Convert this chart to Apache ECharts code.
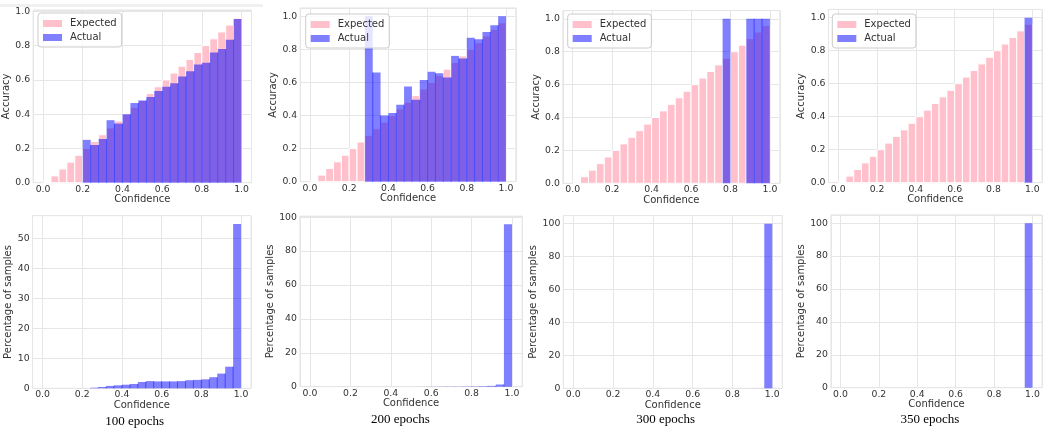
<!DOCTYPE html>
<html>
<head>
<meta charset="utf-8">
<script src="https://cdn.jsdelivr.net/npm/echarts@6/dist/echarts.min.js"></script>
<style>
html,body{margin:0;padding:0;background:#fff;}
#c{width:1045px;height:428px;}
</style>
</head>
<body>
<div id="c"></div>
<script>
// ---------- data ----------
const binEdges = [0, 0.04, 0.08, 0.12, 0.16, 0.2, 0.24, 0.28, 0.32, 0.36, 0.4, 0.44, 0.48, 0.52, 0.56, 0.6, 0.64, 0.68, 0.72, 0.76, 0.8, 0.84, 0.88, 0.92, 0.96, 1.0];
const expected = [0, 0.04, 0.08, 0.12, 0.16, 0.2, 0.24, 0.28, 0.32, 0.36, 0.4, 0.44, 0.48, 0.52, 0.56, 0.6, 0.64, 0.68, 0.72, 0.76, 0.8, 0.84, 0.88, 0.92, 0.96];

const actual100 = [null, null, null, null, null, 0.25, 0.22, 0.255, 0.365, 0.345, 0.40, 0.465, 0.48, 0.50, 0.535, 0.56, 0.58, 0.62, 0.65, 0.69, 0.70, 0.76, 0.78, 0.835, 0.955];
const actual200 = [null, null, null, null, null, null, null, 1.0, 0.66, 0.40, 0.415, 0.465, 0.575, 0.495, 0.615, 0.665, 0.655, 0.63, 0.76, 0.745, 0.87, 0.86, 0.905, 0.945, 1.0];
const actual300 = [null, null, null, null, null, null, null, null, null, null, null, null, null, null, null, null, null, null, null, 1.0, null, null, 1.0, 1.0, 1.0];
const actual350 = [null, null, null, null, null, null, null, null, null, null, null, null, null, null, null, null, null, null, null, null, null, null, null, null, 1.0];

const samples100 = [null, null, null, null, null, null, 0.2, 0.45, 0.8, 1.0, 1.2, 1.45, 2.1, 2.4, 2.3, 2.3, 2.3, 2.4, 2.7, 2.8, 3.0, 3.7, 4.9, 7.2, 54.8];
const samples200 = [null, null, null, null, null, null, null, null, null, null, null, null, null, null, 0.05, 0.05, 0.1, 0.1, 0.1, 0.15, 0.2, 0.3, 0.5, 1.3, 95.8];
const samples300 = [null, null, null, null, null, null, null, null, null, null, null, null, null, null, null, null, null, null, null, 0.01, null, null, 0.02, 0.05, 99.9];
const samples350 = [null, null, null, null, null, null, null, null, null, null, null, null, null, null, null, null, null, null, null, null, null, null, null, null, 100];

const captions = ['100 epochs', '200 epochs', '300 epochs', '350 epochs'];
const actualSets = [actual100, actual200, actual300, actual350];
const sampleSets = [samples100, samples200, samples300, samples350];

// ---------- layout (pixels) ----------
const topGrids = [[33.1, 10, 218.4, 172.7], [300.2, 7.9, 215.6, 173.8], [562.8, 10.6, 217, 172.7], [828.5, 9.4, 215.3, 173.3]];
const botGrids = [[32.6, 215.7, 218.4, 172.6], [299.9, 216.1, 222.2, 170.6], [563.3, 215.6, 218.9, 172.7], [830.9, 214.9, 215.6, 172.8]];
const topNameGap = [17, 17.5, 17.8, 17.5];
const botNameGap = [16.8, 17.6, 18.8, 20.7];
const legendPos = [[38, 13], [305.7, 14], [567.7, 14], [832.3, 14]];
const captionPos = [[134.7, 422], [400.5, 420], [665.7, 420], [930, 420]];

const FONT = 'DejaVu Sans';
const TXT = '#333333';
const GRIDC = '#e6e6e6';
const PINK = '#FFC0CB';
const BLUE = 'rgba(0,0,255,0.5)';

function isMult(v, step) {
  const r = v / step;
  return Math.abs(r - Math.round(r)) < 1e-6;
}
function maxOf(arr) {
  let m = 0;
  arr.forEach(v => { if (v != null && v > m) m = v; });
  return m;
}
function barItems(values) {
  const items = [];
  for (let i = 0; i < values.length; i++) {
    if (values[i] == null) continue;
    const nxt = (i + 1 < values.length && values[i + 1] != null) ? values[i + 1] : 0;
    items.push([binEdges[i], binEdges[i + 1], values[i], nxt]);
  }
  return items;
}
function renderPink(params, api) {
  const a = api.coord([api.value(0), api.value(2)]);
  const b = api.coord([api.value(1), 0]);
  return {
    type: 'rect',
    shape: { x: a[0], y: a[1], width: b[0] - a[0], height: b[1] - a[1] },
    style: { fill: PINK, stroke: '#ffffff', lineWidth: 1 }
  };
}
function renderBlue(params, api) {
  const y = api.value(2), nxt = api.value(3);
  const a = api.coord([api.value(0), y]);
  const b = api.coord([api.value(1), 0]);
  const rect = {
    type: 'rect',
    shape: { x: a[0], y: a[1], width: b[0] - a[0], height: b[1] - a[1] },
    style: { fill: BLUE }
  };
  if (!nxt) return rect;
  const s = api.coord([api.value(1), Math.min(y, nxt)]);
  return {
    type: 'group',
    children: [rect, {
      type: 'line',
      shape: { x1: b[0], y1: s[1], x2: b[0], y2: b[1] },
      style: { stroke: BLUE, lineWidth: 1 }
    }]
  };
}

const grid = [], xAxis = [], yAxis = [], series = [], legend = [], graphic = [];

function addPanel(idx, g, yName, nameGap, ymax, yStep, yFmt) {
  grid.push({
    left: g[0], top: g[1], width: g[2], height: g[3],
    show: true, backgroundColor: '#ffffff', borderColor: GRIDC, borderWidth: 1
  });
  xAxis.push({
    type: 'value', gridIndex: idx, min: -0.05, max: 1.05,
    name: 'Confidence', nameLocation: 'middle', nameGap: 11,
    nameTextStyle: { fontFamily: FONT, fontSize: 10, color: TXT },
    axisLine: { show: false }, axisTick: { show: false },
    axisLabel: {
      fontFamily: FONT, fontSize: 9.3, color: TXT, margin: 2,
      formatter: v => isMult(v, 0.2) ? v.toFixed(1) : ''
    },
    splitLine: { show: true, lineStyle: { color: GRIDC, width: 1 } }
  });
  yAxis.push({
    type: 'value', gridIndex: idx, min: 0, max: ymax, interval: yStep,
    name: yName, nameLocation: 'middle', nameGap: nameGap,
    nameTextStyle: { fontFamily: FONT, fontSize: 10, color: TXT },
    axisLine: { show: false }, axisTick: { show: false },
    axisLabel: {
      fontFamily: FONT, fontSize: 9.3, color: TXT, margin: 3,
      formatter: v => isMult(v, yStep) ? yFmt(v) : ''
    },
    splitLine: { show: true, lineStyle: { color: GRIDC, width: 1 } }
  });
}

for (let k = 0; k < 4; k++) {
  // top: reliability diagram
  const ymaxTop = Math.max(maxOf(expected), maxOf(actualSets[k])) * 1.05;
  addPanel(k, topGrids[k], 'Accuracy', topNameGap[k], ymaxTop, 0.2, v => v.toFixed(1));
  series.push({
    name: 'Expected', type: 'custom', xAxisIndex: k, yAxisIndex: k,
    renderItem: renderPink, data: barItems(expected),
    encode: { x: [0, 1], y: 2 }, itemStyle: { color: PINK }, z: 2
  });
  series.push({
    name: 'Actual', type: 'custom', xAxisIndex: k, yAxisIndex: k,
    renderItem: renderBlue, data: barItems(actualSets[k]),
    encode: { x: [0, 1], y: 2 }, itemStyle: { color: BLUE }, z: 3
  });
  legend.push({
    left: legendPos[k][0], top: legendPos[k][1], orient: 'vertical',
    icon: 'rect', itemWidth: 19, itemHeight: 7, itemGap: 3,
    padding: [5, 5, 4, 5], selectedMode: false,
    backgroundColor: 'rgba(255,255,255,0.8)', borderColor: '#cccccc', borderWidth: 1, borderRadius: 3,
    textStyle: { fontFamily: FONT, fontSize: 10, color: TXT, lineHeight: 11, padding: [0, 0, 0, 3] },
    data: [
      { name: 'Expected', itemStyle: { color: PINK } },
      { name: 'Actual', itemStyle: { color: BLUE } }
    ]
  });
}
for (let k = 0; k < 4; k++) {
  // bottom: confidence histogram
  const ymaxBot = maxOf(sampleSets[k]) * 1.05;
  const step = ymaxBot < 70 ? 10 : 20;
  addPanel(4 + k, botGrids[k], 'Percentage of samples', botNameGap[k], ymaxBot, step, v => String(Math.round(v)));
  series.push({
    name: 'Samples', type: 'custom', xAxisIndex: 4 + k, yAxisIndex: 4 + k,
    renderItem: renderBlue, data: barItems(sampleSets[k]),
    encode: { x: [0, 1], y: 2 }, itemStyle: { color: BLUE }, z: 3
  });
  graphic.push({
    type: 'text', x: captionPos[k][0], y: captionPos[k][1],
    style: {
      text: captions[k], font: '13px "Liberation Serif"', fill: '#000000',
      textAlign: 'center', textVerticalAlign: 'middle', align: 'center', verticalAlign: 'middle'
    }
  });
}
graphic.push({ type: 'rect', shape: { x: 0, y: 4, width: 263, height: 3 }, style: { fill: '#f0f0f0' }, z: -1 });

const chart = echarts.init(document.getElementById('c'), null, { renderer: 'canvas' });
chart.setOption({
  animation: false,
  backgroundColor: '#ffffff',
  grid, xAxis, yAxis, series, legend, graphic
});
</script>
</body>
</html>
